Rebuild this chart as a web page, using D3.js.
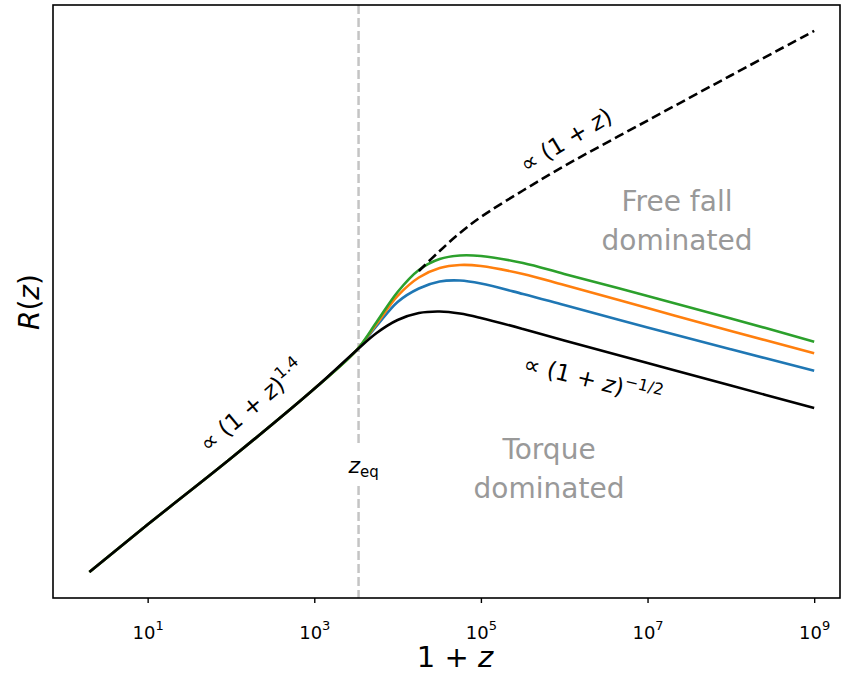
<!DOCTYPE html>
<html>
<head>
<meta charset="utf-8">
<script src="https://cdn.jsdelivr.net/npm/d3@7"></script>
<style>
  html, body { margin: 0; padding: 0; background: #fff; }
  svg { display: block; font-family: "DejaVu Sans", sans-serif; }
</style>
</head>
<body>
<svg id="chart" width="843" height="674"></svg>
<script>
// Redshift grid, 1 + z
const onePlusZ = [2, 1e1, 1e2, 1e3, 3.2e3, 5.6e3, 1e4, 1.8e4, 3.2e4, 5.6e4, 1e5, 3.2e5, 1e6, 1e7, 1e8, 1e9];

// R(z) in arbitrary units
const rTorque = [3.57, 36.5, 938, 2.83e4, 1.85e5, 4.35e5, 8.22e5, 1.16e6, 1.25e6, 1.13e6, 9.07e5, 5.29e5, 3.01e5, 1.00e5, 3.32e4, 1.10e4];
const rBlue   = [3.57, 36.5, 938, 2.83e4, 1.85e5, 6.12e5, 1.99e6, 3.85e6, 5.42e6, 5.69e6, 4.91e6, 2.94e6, 1.71e6, 5.69e5, 1.96e5, 6.86e4];
const rOrange = [3.57, 36.5, 938, 2.83e4, 1.85e5, 6.76e5, 2.67e6, 6.59e6, 1.05e7, 1.22e7, 1.16e7, 7.83e6, 4.57e6, 1.48e6, 4.80e5, 1.61e5];
const rGreen  = [3.57, 36.5, 938, 2.83e4, 1.85e5, 7.45e5, 3.24e6, 9.52e6, 1.63e7, 1.94e7, 1.89e7, 1.34e7, 7.83e6, 2.67e6, 8.89e5, 2.84e5];

// Free-fall branch
const onePlusZFree = [1.8e4, 3.2e4, 5.6e4, 1e5, 3.2e5, 1e6, 1e7, 1e8, 1e9];
const rFree = [9.06e6, 2.42e7, 5.83e7, 1.28e8, 4.68e8, 1.55e9, 1.44e10, 1.31e11, 1.16e12];

// Matter-radiation equality
const zEq = 3400;

// Tick positions and their exponents
const tickValues = [1e1, 1e3, 1e5, 1e7, 1e9];
const tickExponents = ["1", "3", "5", "7", "9"];

const colors = { blue: "#1f77b4", orange: "#ff7f0e", green: "#2ca02c", black: "#000000" };

const svg = d3.select("#chart");
const plotLeft = 53, plotRight = 840, plotTop = 5, plotBottom = 598;

const x = d3.scaleLog().domain([Math.pow(10, -0.136), Math.pow(10, 9.31)]).range([plotLeft, plotRight]);
const y = d3.scaleLog().domain([1, Math.pow(10, 12.617)]).range([plotBottom, plotTop]);

const line = d3.line()
  .x(d => x(d[0]))
  .y(d => y(d[1]))
  .curve(d3.curveCatmullRom.alpha(0.5));

const zip = (a, b) => a.map((v, i) => [v, b[i]]);

// z_eq marker
svg.append("line")
  .attr("x1", x(zEq)).attr("x2", x(zEq))
  .attr("y1", plotTop).attr("y2", plotBottom)
  .attr("stroke", "#c4c4c4").attr("stroke-width", 2.5)
  .attr("stroke-dasharray", "9,4");

// Curves
const series = [
  { data: zip(onePlusZ, rBlue), color: colors.blue },
  { data: zip(onePlusZ, rOrange), color: colors.orange },
  { data: zip(onePlusZ, rGreen), color: colors.green },
  { data: zip(onePlusZ, rTorque), color: colors.black }
];
svg.append("g").selectAll("path").data(series).join("path")
  .attr("d", d => line(d.data))
  .attr("fill", "none")
  .attr("stroke", d => d.color)
  .attr("stroke-width", 2.6)
  .attr("stroke-linecap", "butt");

svg.append("path")
  .attr("d", line(zip(onePlusZFree, rFree)))
  .attr("fill", "none")
  .attr("stroke", "#000")
  .attr("stroke-width", 2.6)
  .attr("stroke-dasharray", "9.5,4.5");

// z_eq label with white backing
const eqG = svg.append("g");
eqG.append("rect")
  .attr("x", x(zEq) - 19).attr("y", 447)
  .attr("width", 38).attr("height", 38)
  .attr("fill", "#fff");
const eqText = eqG.append("text")
  .attr("x", x(zEq) + 5).attr("y", 473)
  .attr("text-anchor", "middle")
  .attr("font-size", 22);
eqText.append("tspan").attr("font-style", "italic").text("z");
eqText.append("tspan").attr("font-size", 15).attr("dy", 4).text("eq");

// Frame
svg.append("rect")
  .attr("x", plotLeft).attr("y", plotTop)
  .attr("width", plotRight - plotLeft).attr("height", plotBottom - plotTop)
  .attr("fill", "none").attr("stroke", "#000").attr("stroke-width", 1.6);

// X axis ticks
const xAxis = d3.axisBottom(x).tickValues(tickValues).tickSize(5).tickFormat(() => "");
const ax = svg.append("g").attr("transform", `translate(0,${plotBottom})`).call(xAxis);
ax.select(".domain").remove();
ax.selectAll(".tick line").attr("stroke", "#000").attr("stroke-width", 1.4);
ax.selectAll(".tick").each(function(d, i) {
  const t = d3.select(this).append("text")
    .attr("y", 41).attr("fill", "#000")
    .attr("text-anchor", "middle")
    .attr("font-size", 18)
    .attr("font-family", "DejaVu Sans, sans-serif");
  t.append("tspan").text("10");
  t.append("tspan").attr("font-size", 13).attr("dy", -9).text(tickExponents[i]);
});

// Axis titles
const xt = svg.append("text")
  .attr("x", 455).attr("y", 667)
  .attr("text-anchor", "middle").attr("font-size", 29);
xt.append("tspan").text("1 + ");
xt.append("tspan").attr("font-style", "italic").text("z");

const yt = svg.append("text")
  .attr("transform", "translate(39,302) rotate(-90)")
  .attr("text-anchor", "middle").attr("font-size", 28);
yt.append("tspan").attr("font-style", "italic").text("R");
yt.append("tspan").text("(");
yt.append("tspan").attr("font-style", "italic").text("z");
yt.append("tspan").text(")");

// Power-law annotations
function powerLabel(cx, cy, angle, exp) {
  const t = svg.append("text")
    .attr("transform", `translate(${cx},${cy}) rotate(${angle})`)
    .attr("text-anchor", "middle").attr("font-size", 23);
  t.append("tspan").text("\u221D (1 + ");
  t.append("tspan").attr("font-style", "italic").text("z");
  t.append("tspan").text(")");
  if (exp) t.append("tspan").attr("font-size", 16).attr("dy", -10).text(exp);
  return t;
}
powerLabel(257, 412, -40, "1.4");
powerLabel(570, 147, -31, null);
powerLabel(591, 388, 14, "\u22121/2");

// Regime labels
function regime(cx, y0, lines) {
  const t = svg.append("text")
    .attr("text-anchor", "middle").attr("font-size", 28).attr("fill", "#999999");
  lines.forEach((s, i) => t.append("tspan").attr("x", cx).attr("y", y0 + i * 39).text(s));
}
regime(677, 211, ["Free fall", "dominated"]);
regime(549, 459, ["Torque", "dominated"]);
</script>
</body>
</html>
